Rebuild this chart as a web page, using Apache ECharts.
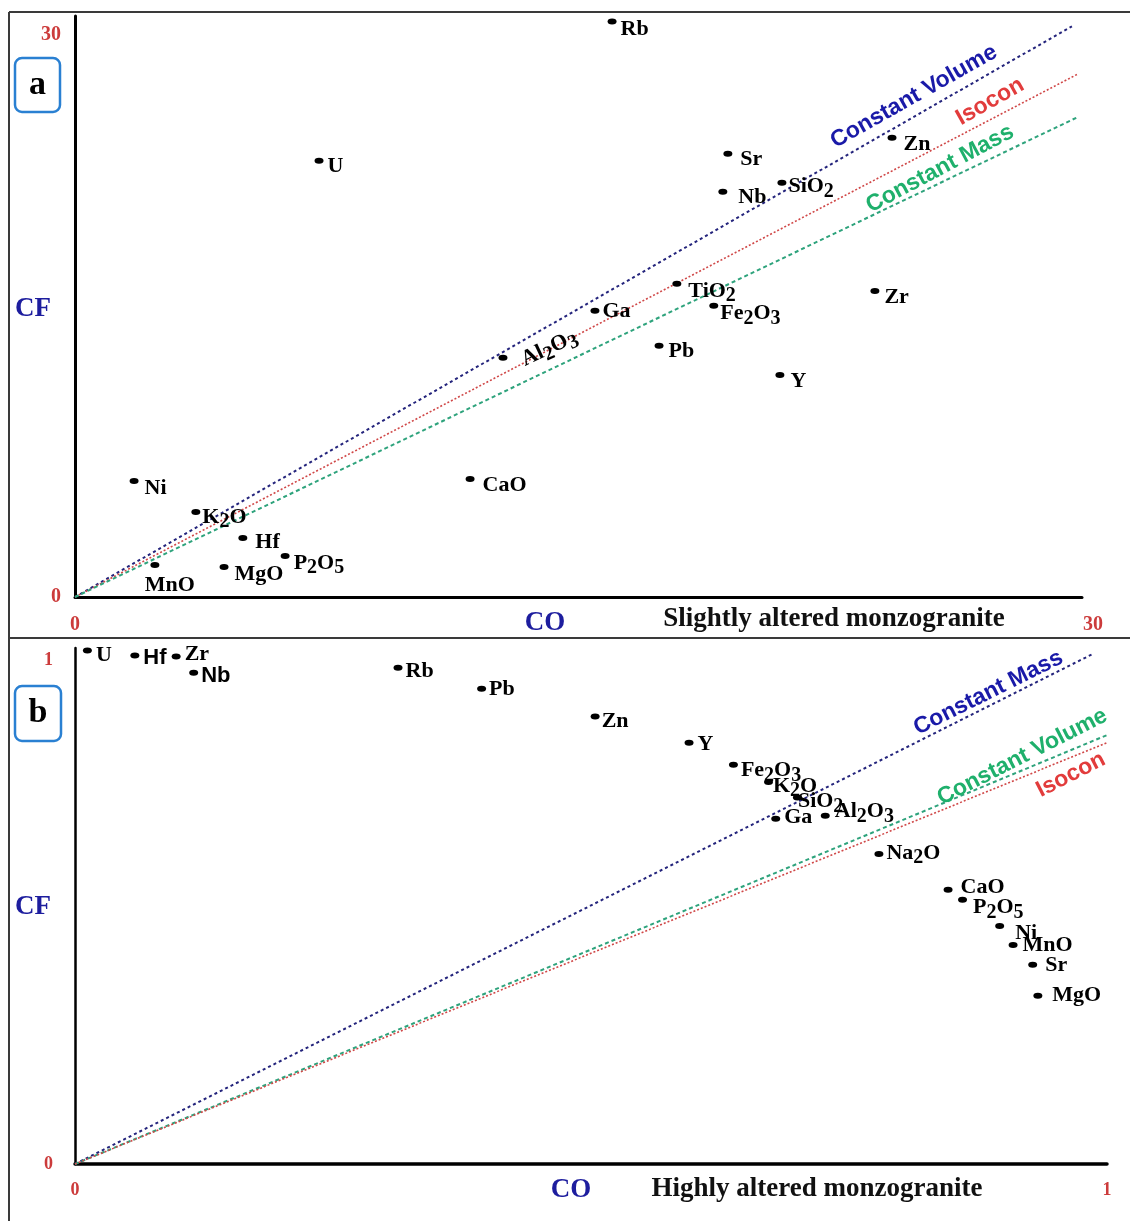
<!DOCTYPE html>
<html>
<head>
<meta charset="utf-8">
<script src="https://cdn.jsdelivr.net/npm/echarts@6/dist/echarts.min.js"></script>
<style>
html, body { margin: 0; padding: 0; background: #fff; }
#chart { width: 1130px; height: 1221px; }
</style>
</head>
<body>
<div id="chart"></div>
<script>
// ---- Panel a: slightly altered monzogranite (CO) vs fresh (CF) ----
const elementsA = ['Rb', 'U', 'Sr', 'Zn', 'Nb', 'SiO2', 'TiO2', 'Ga', 'Fe2O3', 'Zr',
  'Al2O3', 'Pb', 'Y', 'Ni', 'CaO', 'K2O', 'Hf', 'P2O5', 'MgO', 'MnO'];
const coA = [16.0, 7.27, 19.45, 24.34, 19.30, 21.06, 17.93, 15.49, 19.03, 23.83,
  12.75, 17.40, 21.0, 1.76, 11.77, 3.60, 5.0, 6.26, 4.44, 2.38];
const cfA = [30.7, 23.28, 23.65, 24.51, 21.62, 22.1, 16.71, 15.27, 15.54, 16.33,
  12.76, 13.40, 11.85, 6.19, 6.30, 4.54, 3.15, 2.19, 1.60, 1.71];
const ticksA = [0, 30];

// reference lines through the origin, given by their far end point
const lineNamesA = ['Constant Volume', 'Isocon', 'Constant Mass'];
const lineEndCoA = [29.7, 29.85, 29.9];
const lineEndCfA = [30.45, 27.88, 25.63];

// ---- Panel b: highly altered monzogranite ----
const elementsB = ['U', 'Hf', 'Zr', 'Nb', 'Rb', 'Pb', 'Zn', 'Y', 'Fe2O3', 'K2O',
  'SiO2', 'Ga', 'Al2O3', 'Na2O', 'CaO', 'P2O5', 'Ni', 'MnO', 'Sr', 'MgO'];
const coB = [0.012, 0.058, 0.098, 0.115, 0.313, 0.394, 0.504, 0.595, 0.638, 0.672,
  0.700, 0.679, 0.727, 0.779, 0.846, 0.860, 0.896, 0.909, 0.928, 0.933];
const cfB = [1.020, 1.010, 1.008, 0.976, 0.986, 0.944, 0.889, 0.837, 0.793, 0.759,
  0.728, 0.686, 0.692, 0.616, 0.545, 0.525, 0.473, 0.435, 0.396, 0.334];
const ticksB = [0, 1];

const lineNamesB = ['Constant Mass', 'Constant Volume', 'Isocon'];
const lineEndCoB = [0.987, 1.0, 1.0];
const lineEndCfB = [1.014, 0.852, 0.837];

// ---- styling ----
const SERIF = '"Liberation Serif", "Times New Roman", serif';
const SANS = '"Liberation Sans", Arial, sans-serif';
const TICK_RED = '#cc3b3b';
const NAME_BLUE = '#1d1d9e';
const LINE_STYLE = {
  'Constant Volume': { line: '#24247c', text: '#1a1aa8', dash: [3, 3], width: 2 },
  'Isocon':          { line: '#d04848', text: '#e23c3c', dash: [2, 2], width: 1.6 },
  'Constant Mass':   { line: '#2ea37c', text: '#1fb06c', dash: [4, 3], width: 2 }
};
// in panel b the upper line is Constant Mass (navy) and Constant Volume is green
const LINE_STYLE_B = {
  'Constant Mass':   { line: '#24247c', text: '#1a1aa8', dash: [3, 3], width: 2 },
  'Constant Volume': { line: '#2ea37c', text: '#1fb06c', dash: [4, 3], width: 2 },
  'Isocon':          { line: '#d04848', text: '#e23c3c', dash: [2, 2], width: 1.6 }
};

// label nudges (pixels) for the element names
const labelOffsetA = {
  Rb: [-1, 8], U: [-1, 6], Sr: [3, 6], Zn: [2, 7], Nb: [6, 6], SiO2: [-3, 4],
  TiO2: [2, 7], Ga: [-2, 1], Fe2O3: [-3, 8], Zr: [0, 6], Pb: [0, 5], Y: [1, 6],
  Ni: [1, 7], CaO: [3, 6], K2O: [-3, 5], Hf: [3, 4], P2O5: [-1, 7], MgO: [1, 7]
};
const labelOffsetB = {
  U: [-1, 5], Hf: [-1, 2], Zr: [-1, -2], Nb: [-2, 3], Rb: [-2, 4], Pb: [-2, 1],
  Zn: [-3, 5], Y: [-1, 2], Fe2O3: [-2, 6], K2O: [-5, 4], SiO2: [-9, 4], Ga: [-1, -1],
  Al2O3: [0, -4], Na2O: [-2, -1], CaO: [3, -2], P2O5: [1, 8], Ni: [6, 7], MnO: [0, 0],
  Sr: [3, 1], MgO: [5, -1]
};
const sansLabelsB = ['Hf', 'Nb'];

// write digits in formulas as subscripts
function chem(name) {
  return name.split(/(\d)/).filter(Boolean)
    .map(t => /\d/.test(t) ? '{s|' + t + '}' : '{n|' + t + '}').join('');
}
function richFor(family) {
  return {
    n: { fontSize: 22, fontWeight: 'bold', fontFamily: family, color: '#000', lineHeight: 26 },
    s: { fontSize: 20, fontWeight: 'bold', fontFamily: family, color: '#000', lineHeight: 20, padding: [10, 0, 0, 0] }
  };
}

function pointData(names, xs, ys, offsets, special, sansNames) {
  return names.map((n, i) => {
    const item = { name: n, value: [xs[i], ys[i]], label: { offset: offsets[n] || [0, 5] } };
    if (special[n]) Object.assign(item.label, special[n]);
    if (sansNames && sansNames.includes(n)) item.label.rich = richFor(SANS);
    return item;
  });
}

const specialA = {
  MnO: { position: 'bottom', distance: 4, offset: [15, 0] },
  Al2O3: { rotate: 25, offset: [8, 7] }
};

function lineSeries(names, endCo, endCf, styles, axisIdx) {
  return names.map((n, i) => ({
    type: 'line', name: n, xAxisIndex: axisIdx, yAxisIndex: axisIdx,
    data: [[0, 0], [endCo[i], endCf[i]]],
    showSymbol: false, silent: true, clip: false, z: 1,
    lineStyle: { color: styles[n].line, width: styles[n].width, type: styles[n].dash }
  }));
}

function tickFormatter(list) {
  return v => list.includes(v) ? String(v) : '';
}

const axisLine = w => ({ show: true, onZero: false, lineStyle: { color: '#000', width: w } });

const pointLabel = {
  show: true, position: 'right', distance: 5, color: '#000', opacity: 1,
  formatter: p => chem(p.name), rich: richFor(SERIF)
};

const chart = echarts.init(document.getElementById('chart'), null, { renderer: 'canvas' });

chart.setOption({
  animation: false,
  backgroundColor: '#fff',
  grid: [
    { left: 75, top: 16, width: 1007, height: 581 },
    { left: 75, top: 648, width: 1032, height: 516 }
  ],
  xAxis: [
    {
      gridIndex: 0, type: 'value', min: 0, max: 30, interval: 30,
      axisLine: axisLine(3), axisTick: { show: false }, splitLine: { show: false },
      axisLabel: {
        margin: 18, color: TICK_RED, fontSize: 20, fontWeight: 'bold', fontFamily: SERIF,
        formatter: v => v === 30 ? '{r|30}' : (ticksA.includes(v) ? '{c|' + v + '}' : ''),
        rich: {
          c: { color: TICK_RED, fontSize: 20, fontWeight: 'bold', fontFamily: SERIF },
          r: { color: TICK_RED, fontSize: 20, fontWeight: 'bold', fontFamily: SERIF, padding: [0, 0, 0, 22] }
        }
      }
    },
    {
      gridIndex: 1, type: 'value', min: 0, max: 1, interval: 1,
      axisLine: axisLine(3.5), axisTick: { show: false }, splitLine: { show: false },
      axisLabel: {
        margin: 17, color: TICK_RED, fontSize: 18, fontWeight: 'bold', fontFamily: SERIF,
        formatter: tickFormatter(ticksB)
      }
    }
  ],
  yAxis: [
    {
      gridIndex: 0, type: 'value', min: 0, max: 31, interval: 30,
      axisLine: axisLine(3), axisTick: { show: false }, splitLine: { show: false },
      axisLabel: {
        margin: 14, color: TICK_RED, fontSize: 20, fontWeight: 'bold', fontFamily: SERIF,
        formatter: tickFormatter(ticksA)
      }
    },
    {
      gridIndex: 1, type: 'value', min: 0, max: 1.025, interval: 1,
      axisLine: axisLine(2.5), axisTick: { show: false }, splitLine: { show: false },
      axisLabel: {
        margin: 22, color: TICK_RED, fontSize: 18, fontWeight: 'bold', fontFamily: SERIF,
        formatter: tickFormatter(ticksB)
      }
    }
  ],
  series: [
    ...lineSeries(lineNamesA, lineEndCoA, lineEndCfA, LINE_STYLE, 0),
    ...lineSeries(lineNamesB, lineEndCoB, lineEndCfB, LINE_STYLE_B, 1),
    {
      type: 'scatter', xAxisIndex: 0, yAxisIndex: 0, z: 3,
      symbol: 'circle', symbolSize: [9, 6], itemStyle: { color: '#000', opacity: 1 },
      label: pointLabel,
      data: pointData(elementsA, coA, cfA, labelOffsetA, specialA)
    },
    {
      type: 'scatter', xAxisIndex: 1, yAxisIndex: 1, z: 3,
      symbol: 'circle', symbolSize: [9, 6], itemStyle: { color: '#000', opacity: 1 },
      label: pointLabel,
      data: pointData(elementsB, coB, cfB, labelOffsetB, {}, sansLabelsB)
    }
  ]
});

// ---- text annotations and frames ----
// reference line captions, anchored in data units of each panel
const captionCoA = [24.99, 27.26, 25.77];
const captionCfA = [26.70, 26.43, 22.85];
const captionAngleA = [29.5, 29.5, 28];
const captionCoB = [0.885, 0.918, 0.965];
const captionCfB = [0.936, 0.809, 0.773];
const captionAngleB = [26.5, 27, 27];

function captions(names, cos, cfs, angles, styles, gridIndex) {
  return names.map((n, i) => {
    const p = chart.convertToPixel({ xAxisIndex: gridIndex, yAxisIndex: gridIndex }, [cos[i], cfs[i]]);
    return {
      type: 'text', x: p[0], y: p[1], rotation: angles[i] * Math.PI / 180, z: 10,
      style: {
        text: n, fill: styles[n].text, font: 'bold 23px ' + SANS,
        align: 'center', verticalAlign: 'middle'
      }
    };
  });
}

function panelBox(letter, x, y, w, h) {
  return [
    { type: 'rect', shape: { x: x, y: y, width: w, height: h, r: 7 }, z: 10,
      style: { fill: '#fff', stroke: '#2a80d2', lineWidth: 2.5 } },
    { type: 'text', x: x + w / 2, y: y + h / 2, z: 11,
      style: { text: letter, font: 'bold 34px ' + SERIF, fill: '#000', align: 'center', verticalAlign: 'middle' } }
  ];
}

function label(text, x, y, font, color) {
  return { type: 'text', x: x, y: y, z: 10,
    style: { text: text, font: font, fill: color, align: 'center', verticalAlign: 'middle' } };
}

const frameColor = '#3a3a3a';
chart.setOption({
  graphic: [
    { type: 'line', shape: { x1: 9, y1: 12, x2: 1130, y2: 12 }, style: { stroke: frameColor, lineWidth: 2 } },
    { type: 'line', shape: { x1: 9, y1: 638, x2: 1130, y2: 638 }, style: { stroke: frameColor, lineWidth: 2 } },
    { type: 'line', shape: { x1: 9, y1: 12, x2: 9, y2: 1221 }, style: { stroke: frameColor, lineWidth: 2 } },
    ...panelBox('a', 15, 58, 45, 54),
    ...panelBox('b', 15, 686, 46, 55),
    label('CF', 33, 309, 'bold 27px ' + SERIF, NAME_BLUE),
    label('CO', 545, 623, 'bold 27px ' + SERIF, NAME_BLUE),
    label('Slightly altered monzogranite', 834, 619, 'bold 27px ' + SERIF, '#111'),
    label('CF', 33, 907, 'bold 27px ' + SERIF, NAME_BLUE),
    label('CO', 571, 1190, 'bold 27px ' + SERIF, NAME_BLUE),
    label('Highly altered monzogranite', 817, 1189, 'bold 27px ' + SERIF, '#111'),
    ...captions(lineNamesA, captionCoA, captionCfA, captionAngleA, LINE_STYLE, 0),
    ...captions(lineNamesB, captionCoB, captionCfB, captionAngleB, LINE_STYLE_B, 1)
  ]
});
</script>
</body>
</html>
